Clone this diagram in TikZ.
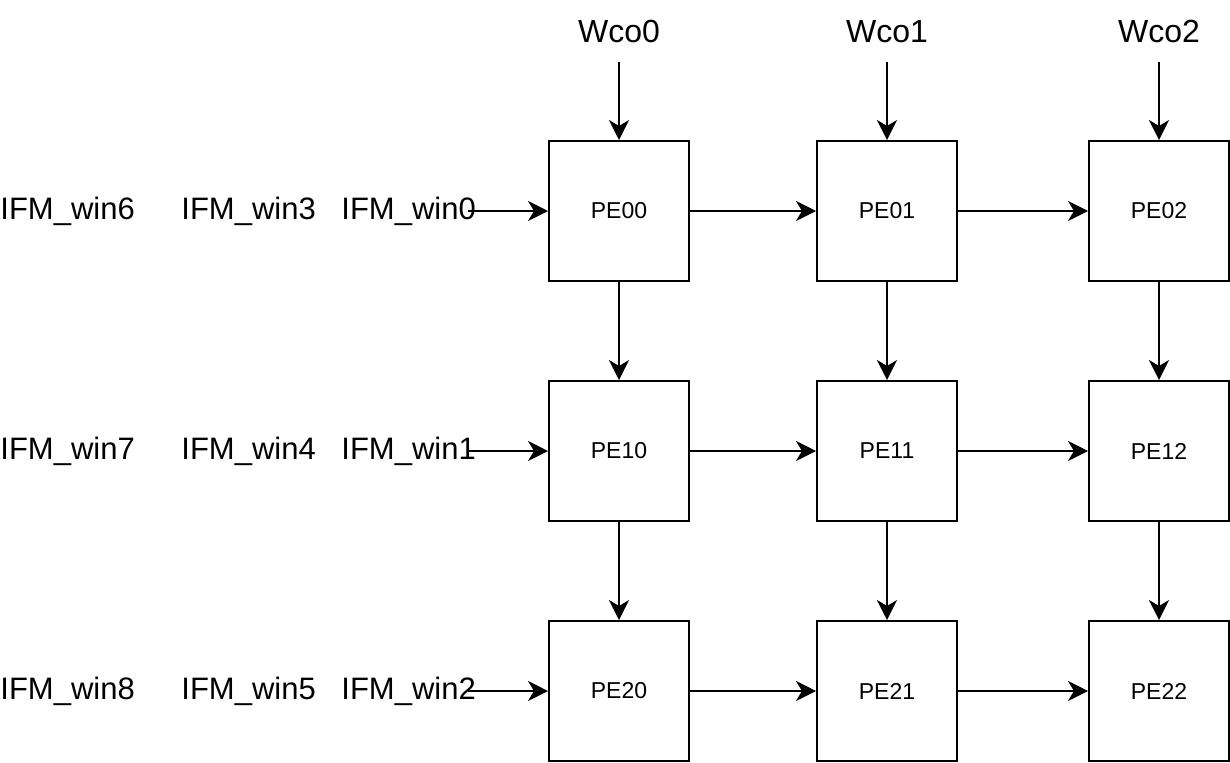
\documentclass[tikz,border=0pt]{standalone}
\usepackage{fontspec}
\setmainfont{Liberation Sans}
\usetikzlibrary{arrows.meta}

\begin{document}
\begin{tikzpicture}[x=0.5pt,y=-0.5pt]
\tikzstyle{every node}=[inner sep=0pt]
\tikzstyle{pe}=[draw,line width=1pt,minimum size=70pt,font=\fontsize{11.5}{14}\selectfont]
\tikzstyle{wlabel}=[anchor=base,font=\fontsize{16}{19}\selectfont]
\tikzstyle{ifm}=[anchor=base west,font=\fontsize{15.5}{19}\selectfont]
\tikzstyle{flow}=[line width=1pt,-{Stealth[length=10pt,width=10pt,inset=3pt]}]
\useasboundingbox (0,0) rectangle (1230,762);

% weights
\node[wlabel] (wco0) at (619,42) {Wco0};
\node[wlabel] (wco1) at (887,42) {Wco1};
\node[wlabel] (wco2) at (1159,42) {Wco2};
\coordinate (top0) at (619,62);
\coordinate (top1) at (887,62);
\coordinate (top2) at (1159,62);

% PE array
\node[pe] (pe00) at (619,211) {PE00};
\node[pe] (pe01) at (887,211) {PE01};
\node[pe] (pe02) at (1159,211) {PE02};
\node[pe] (pe10) at (619,451) {PE10};
\node[pe] (pe11) at (887,451) {PE11};
\node[pe] (pe12) at (1159,451) {PE12};
\node[pe] (pe20) at (619,691) {PE20};
\node[pe] (pe21) at (887,691) {PE21};
\node[pe] (pe22) at (1159,691) {PE22};

% input windows
\node[ifm] (win6) at (0,219) {IFM\_win6};
\node[ifm] (win3) at (181,219) {IFM\_win3};
\node[ifm] (win0) at (341,219) {IFM\_win0};
\node[ifm] (win7) at (0,459) {IFM\_win7};
\node[ifm] (win4) at (181,459) {IFM\_win4};
\node[ifm] (win1) at (341,459) {IFM\_win1};
\node[ifm] (win8) at (0,699) {IFM\_win8};
\node[ifm] (win5) at (181,699) {IFM\_win5};
\node[ifm] (win2) at (341,699) {IFM\_win2};
\coordinate (in0) at (468,211);
\coordinate (in1) at (468,451);
\coordinate (in2) at (468,691);

\draw[flow] (top0) -- (pe00);
\draw[flow] (top1) -- (pe01);
\draw[flow] (top2) -- (pe02);

\draw[flow] (in0) -- (pe00);
\draw[flow] (in1) -- (pe10);
\draw[flow] (in2) -- (pe20);

\draw[flow] (pe00) -- (pe01);
\draw[flow] (pe01) -- (pe02);
\draw[flow] (pe10) -- (pe11);
\draw[flow] (pe11) -- (pe12);
\draw[flow] (pe20) -- (pe21);
\draw[flow] (pe21) -- (pe22);

\draw[flow] (pe00) -- (pe10);
\draw[flow] (pe10) -- (pe20);
\draw[flow] (pe01) -- (pe11);
\draw[flow] (pe11) -- (pe21);
\draw[flow] (pe02) -- (pe12);
\draw[flow] (pe12) -- (pe22);
\end{tikzpicture}
\end{document}
